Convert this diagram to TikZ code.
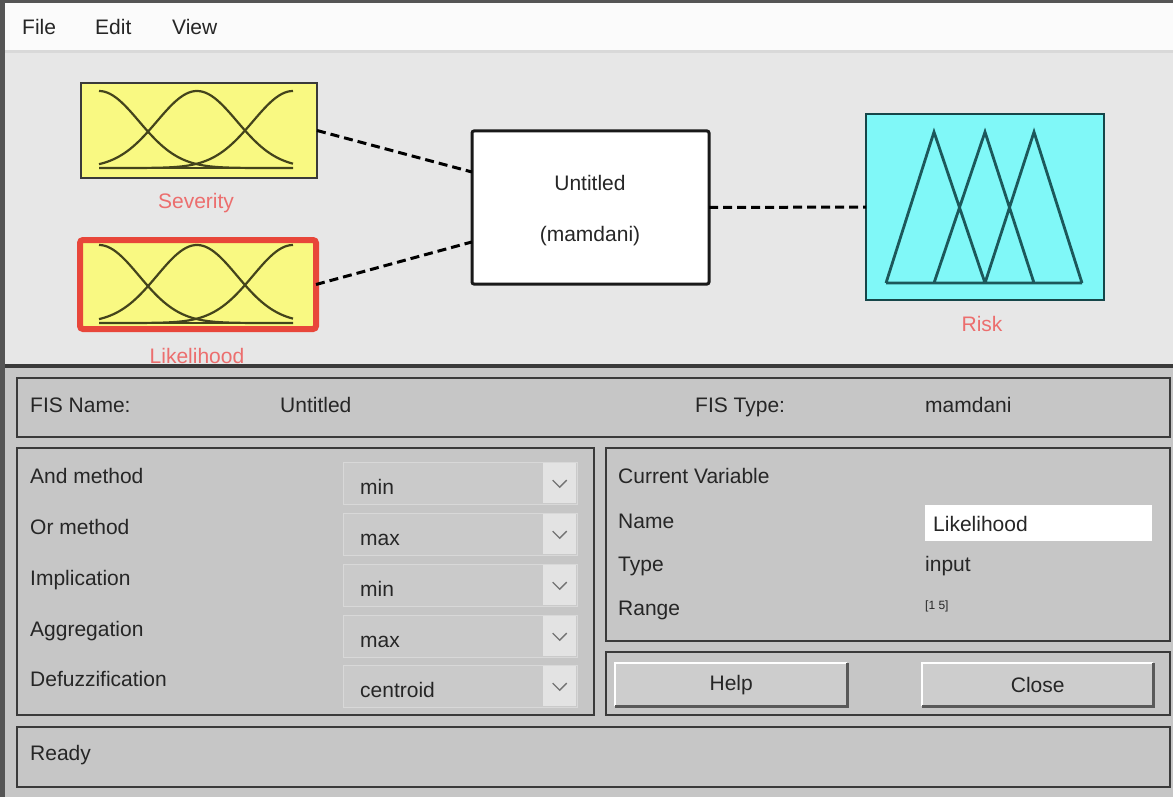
\documentclass[tikz,border=0pt]{standalone}
\usepackage{fontspec}
\setmainfont{Liberation Sans}
\usetikzlibrary{calc}

\definecolor{framec}{HTML}{555555}
\definecolor{menubg}{HTML}{FBFBFB}
\definecolor{topbg}{HTML}{E7E7E7}
\definecolor{panelbg}{HTML}{C6C6C6}
\definecolor{txtc}{HTML}{262626}
\definecolor{redlbl}{HTML}{EC6E6E}
\definecolor{mfyellow}{HTML}{F9F982}
\definecolor{mfline}{HTML}{44441C}
\definecolor{selred}{HTML}{E8463A}
\definecolor{riskcyan}{HTML}{80F8F8}
\definecolor{riskline}{HTML}{1C585B}
\definecolor{boxline}{HTML}{3A3A3A}
\definecolor{dropbg}{HTML}{CACACA}
\definecolor{dropedge}{HTML}{D8D8D8}
\definecolor{arrowbg}{HTML}{E3E3E3}
\definecolor{btnbg}{HTML}{CDCDCD}

% Gaussian membership curve: centre, top y, height, baseline-left x, right x
\newcommand\gaussmf[5]{%
  \draw[mfcurve] plot[domain=#4:#5, samples=70]
    (\x, {#2+#3-#3*exp(-0.5*((\x-#1)/40)^2)});}

\tikzset{
  txt/.style={font=\fontsize{21}{25}\selectfont, text=txtc, inner sep=0, anchor=base west},
  ctxt/.style={font=\fontsize{21}{25}\selectfont, text=txtc, inner sep=0, anchor=base},
  redtxt/.style={font=\fontsize{21}{25}\selectfont, text=redlbl, inner sep=0, anchor=base},
  mfcurve/.style={draw=mfline, line width=2.2pt},
  varbox/.style={anchor=north west, inner sep=0, outer sep=0},
  conn/.style={draw=black, line width=3pt, dash pattern=on 9pt off 5pt},
  groupbox/.style={draw=boxline, line width=2.5pt, anchor=north west, inner sep=0, outer sep=0},
  dropbox/.style={fill=dropbg, draw=dropedge, line width=1pt, anchor=north west,
    minimum width=234pt, minimum height=42pt, inner sep=0},
  arrowbox/.style={fill=arrowbg, anchor=north west, minimum width=33pt,
    minimum height=40pt, inner sep=0},
  chev/.style={draw=black!55, line width=1.4pt},
  btn/.style={fill=btnbg, anchor=north west, minimum width=232pt, minimum height=43pt,
    inner sep=0, font=\fontsize{21}{25}\selectfont, text=txtc},
}

\begin{document}
\begin{tikzpicture}[x=1pt,y=-1pt]
\useasboundingbox (0,0) rectangle (1173,797);

% window areas
\fill[topbg] (0,0) rectangle (1173,367);
\fill[menubg] (0,3) rectangle (1173,50);
\fill[black!15] (0,50) rectangle (1173,53);
\fill[panelbg] (0,367) rectangle (1173,797);
\fill[boxline] (0,364) rectangle (1173,368);
\fill[framec] (0,0) rectangle (1173,3);
\fill[framec] (0,0) rectangle (4.5,797);

% menu bar
\node[txt] (mfile) at (22,35) {File};
\node[txt] (medit) at (95,35) {Edit};
\node[txt] (mview) at (172,35) {View};

% input variable Severity
\node[varbox, fill=mfyellow, draw=boxline, line width=2.5pt,
      minimum width=236pt, minimum height=95pt] (sev) at (81,83) {};
\draw[mfcurve] (99,168) -- (293,168);
\gaussmf{99}{91}{77}{99}{293}
\gaussmf{197}{91}{77}{99}{293}
\gaussmf{293}{91}{77}{99}{293}
\node[redtxt] (sevlbl) at (196,208) {Severity};

% input variable Likelihood (selected)
\node[varbox, fill=mfyellow, draw=selred, line width=6pt, rounded corners=3pt,
      minimum width=236pt, minimum height=89pt] (lik) at (80,240) {};
\draw[mfcurve] (99,323) -- (293,323);
\gaussmf{99}{245}{78}{99}{293}
\gaussmf{197}{245}{78}{99}{293}
\gaussmf{293}{245}{78}{99}{293}
\begin{scope}
  \clip (0,53) rectangle (1173,364);
  \node[redtxt] (liklbl) at (197,363) {Likelihood};
\end{scope}

% FIS system block
\node[varbox, fill=white, draw=black!90, line width=3pt, rounded corners=2pt,
      minimum width=237pt, minimum height=153pt] (fis) at (472,131) {};
\node[ctxt] (fisname) at (590,190) {Untitled};
\node[ctxt] (fistype) at (590,241) {(mamdani)};

% output variable Risk
\node[varbox, fill=riskcyan, draw=riskline!80!black, line width=2.5pt,
      minimum width=238pt, minimum height=186pt] (risk) at (866,114) {};
\draw[riskline, line width=2.8pt, line join=miter]
  (886,283) -- (1082,283)
  (886,283) -- (934,132) -- (985,283)
  (934,283) -- (985,132) -- (1034,283)
  (985,283) -- (1034,132) -- (1082,283);
\node[redtxt] (risklbl) at (982,331) {Risk};

% connections
\draw[conn] (sev.east) -- ($(fis.north west)!0.268!(fis.south west)$);
\draw[conn] (lik.east) -- ($(fis.north west)!0.725!(fis.south west)$);
\draw[conn] (fis.east) -- (risk.west);

% FIS name / type panel
\node[groupbox, minimum width=1153pt, minimum height=59pt] (gname) at (17,378) {};
\node[txt] (lfisname) at (30,412) {FIS Name:};
\node[txt] (vfisname) at (280,412) {Untitled};
\node[txt] (lfistype) at (695,412) {FIS Type:};
\node[txt] (vfistype) at (925,412) {mamdani};

% methods panel
\node[groupbox, minimum width=577pt, minimum height=267pt] (gmeth) at (17,448) {};
\foreach \lab/\val/\yy [count=\i] in {And method/min/462, Or method/max/513,
    Implication/min/564, Aggregation/max/615, Defuzzification/centroid/665}{
  \node[dropbox] (drop\i) at (343,\yy) {};
  \node[arrowbox] (arr\i) at (543,\yy+1) {};
  \draw[chev] ($(arr\i.center)+(-7,-3)$) -- ($(arr\i.center)+(0,4)$) -- ($(arr\i.center)+(7,-3)$);
  \node[txt] (lab\i) at (30,\yy+21) {\lab};
  \node[txt] (val\i) at (360,\yy+32) {\val};
}

% current variable panel
\node[groupbox, minimum width=564pt, minimum height=193pt] (gvar) at (606,448) {};
\node[txt] (lcur) at (618,483) {Current Variable};
\node[txt] (lname) at (618,528) {Name};
\node[txt] (ltype) at (618,571) {Type};
\node[txt] (lrange) at (618,615) {Range};
\node[anchor=north west, fill=white, minimum width=227pt, minimum height=36pt,
      inner sep=0] (namefield) at (925,505) {};
\node[txt] (vname) at (933,531) {Likelihood};
\node[txt] (vtype) at (925,571) {input};
\node[font=\fontsize{12}{14}\selectfont, text=txtc, inner sep=0, anchor=base west]
  (vrange) at (925,609) {[1 5]};

% buttons panel
\node[groupbox, minimum width=564pt, minimum height=63pt] (gbtn) at (606,652) {};
\node[btn] (help) at (615,663) {Help};
\node[btn, minimum width=231pt] (close) at (922,663) {Close};
\foreach \b in {help,close}{
  \draw[white, line width=2pt] (\b.south west) -- (\b.north west) -- (\b.north east);
  \draw[black!65, line width=2.5pt] (\b.north east) -- (\b.south east) -- (\b.south west);
}

% status bar
\node[groupbox, minimum width=1153pt, minimum height=60pt] (gstat) at (17,727) {};
\node[txt] (status) at (30,760) {Ready};

\end{tikzpicture}
\end{document}
